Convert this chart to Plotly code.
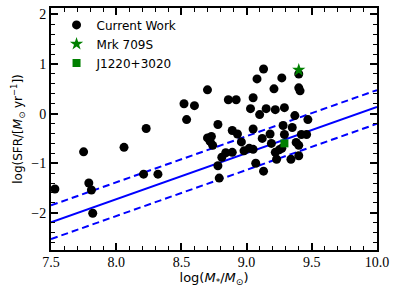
import plotly.graph_objects as go

# Current Work sample: log stellar mass and log SFR
mass = [7.53, 7.75, 7.79, 7.81, 7.82, 8.06, 8.21, 8.32, 8.23, 8.52, 8.60, 8.54,
        8.70, 8.86, 8.92, 9.05, 9.08, 9.13, 9.27, 9.40, 9.21, 9.40, 9.41, 9.03,
        9.10, 9.15, 9.22, 9.29, 9.37, 9.47, 8.78, 8.89, 8.93, 9.05, 9.28, 9.35,
        8.70, 8.73, 8.74, 8.72, 8.96, 9.12, 9.18, 9.29, 9.42, 9.46, 9.19, 9.38,
        9.40, 8.81, 8.84, 8.89, 8.98, 9.02, 9.05, 9.22, 9.25, 9.27, 9.23, 9.34,
        9.40, 8.78, 8.79, 9.07, 9.13]
sfr = [-1.52, -0.77, -1.40, -1.54, -2.01, -0.68, -1.22, -1.22, -0.30, 0.20, 0.16, -0.12,
       0.48, 0.28, 0.28, 0.32, 0.70, 0.90, 0.72, 0.80, 0.50, 0.52, 0.46, 0.10,
       -0.02, 0.10, 0.08, 0.12, -0.04, -0.12, -0.22, -0.34, -0.41, -0.31, -0.24, -0.28,
       -0.49, -0.46, -0.64, -0.56, -0.57, -0.50, -0.41, -0.42, -0.42, -0.42, -0.60, -0.58,
       -0.64, -0.88, -0.79, -0.78, -0.75, -0.70, -0.72, -0.78, -0.73, -0.70, -0.92, -0.92,
       -0.85, -1.05, -1.30, -1.00, -1.16]

mrk_mass = [9.40]
mrk_sfr = [0.88]
j1220_mass = [9.29]
j1220_sfr = [-0.60]

# Star-forming main sequence relation and scatter
ms_slope = 0.93
ms_intercept = -9.165
ms_scatter = 0.34
ms_x = [7.5, 10.0]

ms_y = [ms_slope * x + ms_intercept for x in ms_x]
ms_up = [y + ms_scatter for y in ms_y]
ms_lo = [y - ms_scatter for y in ms_y]

fig = go.Figure()
blue = "#0000ff"
green = "#008000"
for ys, dash in [(ms_y, "solid"), (ms_up, "7px,4px"), (ms_lo, "7px,4px")]:
    fig.add_trace(go.Scatter(x=ms_x, y=ys, mode="lines", showlegend=False,
                             line=dict(color=blue, width=2, dash=dash)))

fig.add_trace(go.Scatter(x=mass, y=sfr, mode="markers", name="Current Work",
                         marker=dict(color="black", size=9, line=dict(width=0))))
fig.add_trace(go.Scatter(x=mrk_mass, y=mrk_sfr, mode="markers", name="Mrk 709S",
                         marker=dict(color=green, size=10, symbol="star", line=dict(width=0))))
fig.add_trace(go.Scatter(x=j1220_mass, y=j1220_sfr, mode="markers", name="J1220+3020",
                         marker=dict(color=green, size=8, symbol="square", line=dict(width=0))))

axis_common = dict(showline=True, linewidth=2, linecolor="black", mirror="allticks",
                   ticks="inside", ticklen=7, tickwidth=1.5, tickcolor="black",
                   showgrid=False, zeroline=False,
                   tickfont=dict(family="Liberation Serif", size=14, color="black"))

fig.update_xaxes(range=[7.5, 10.0], dtick=0.5, tick0=7.5, tickformat=".1f",
                 minor=dict(dtick=0.1, ticks="inside", ticklen=4, tickwidth=1.2, tickcolor="black"),
                 title=dict(text="log(<i>M</i><sub>*</sub>/<i>M</i><sub>⊙</sub>)",
                            font=dict(family="DejaVu Sans", size=13, color="black"), standoff=0),
                 ticklabelstandoff=-2,
                 **axis_common)
fig.update_yaxes(range=[-2.75, 2.13], dtick=1, tick0=0,
                 minor=dict(dtick=0.2, ticks="inside", ticklen=4, tickwidth=1.2, tickcolor="black"),
                 title=dict(text="log(SFR/[<i>M</i><sub>⊙</sub> yr<sup>−1</sup>])",
                            font=dict(family="DejaVu Sans", size=12, color="black"), standoff=6),
                 **axis_common)

fig.update_layout(
    width=399, height=293,
    margin=dict(l=51, r=22, t=6, b=43),
    plot_bgcolor="white", paper_bgcolor="white",
    legend=dict(x=0.017, y=0.99, xanchor="left", yanchor="top",
                bgcolor="rgba(0,0,0,0)", borderwidth=0,
                font=dict(family="DejaVu Sans", size=12, color="black"),
                tracegroupgap=0, itemsizing="trace"),
)

fig.write_html("out.html", config={"displayModeBar": False},
               post_script="document.body.style.margin='0';document.body.style.overflow='hidden';")
